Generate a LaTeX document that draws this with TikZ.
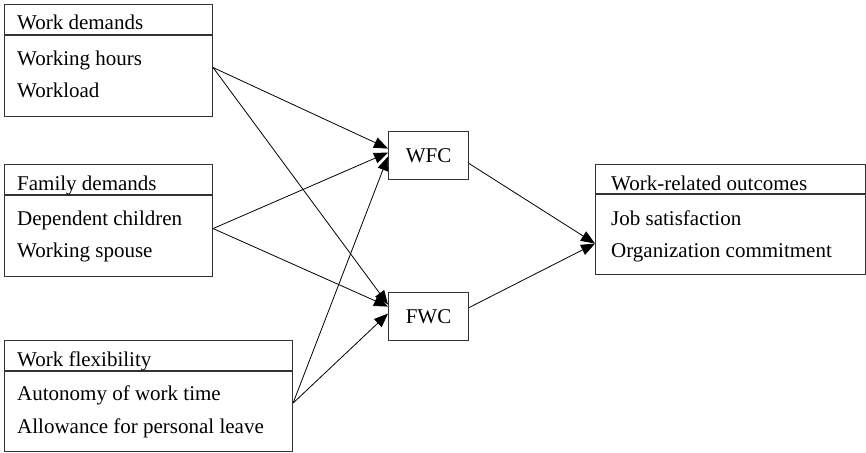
\documentclass[tikz,border=0pt]{standalone}
\usepackage{fontspec}
\setmainfont{Liberation Serif}
\usetikzlibrary{arrows.meta}
\begin{document}
\begin{tikzpicture}[x=1pt, y=-1pt, >={Triangle[length=14pt, width=11pt]},
		box/.style={draw=black!80, line width=1.1pt, anchor=north west, inner sep=0pt, font=\fontsize{21}{25}\selectfont},
		txt/.style={anchor=base west, inner sep=0pt, font=\fontsize{21}{25}\selectfont},
		link/.style={->, black, line width=0.8pt}]
			\useasboundingbox (0,0) rectangle (866,452);
			
			\node[box, minimum width=208pt, minimum height=112pt] (work) at (4,4) {};
			\draw [black!80, line width=1.1pt] ([yshift=-31pt]work.north west) -- ([yshift=-31pt]work.north east);
			\node[txt] (work title) at (17,30) {Work demands};
			\node[txt] (work hours) at (17,66) {Working hours};
			\node[txt] (work load) at (17,97) {Workload};
			
			\node[box, minimum width=208pt, minimum height=112pt] (family) at (4,164) {};
			\draw [black!80, line width=1.1pt] ([yshift=-31pt]family.north west) -- ([yshift=-31pt]family.north east);
			\node[txt] (family title) at (17,190) {Family demands};
			\node[txt] (family children) at (17,225) {Dependent children};
			\node[txt] (family spouse) at (17,257) {Working spouse};
			
			\node[box, minimum width=288pt, minimum height=111pt] (flex) at (4,340) {};
			\draw [black!80, line width=1.1pt] ([yshift=-31pt]flex.north west) -- ([yshift=-31pt]flex.north east);
			\node[txt] (flex title) at (17,366) {Work flexibility};
			\node[txt] (flex time) at (17,400) {Autonomy of work time};
			\node[txt] (flex leave) at (17,433) {Allowance for personal leave};
			
			\node[box, minimum width=80pt, minimum height=48pt] (wfc) at (388,131) {WFC};
			\node[box, minimum width=80pt, minimum height=48pt] (fwc) at (388,292) {FWC};
			
			\node[box, minimum width=270pt, minimum height=110pt] (outcome) at (595,164) {};
			\draw [black!80, line width=1.1pt] ([yshift=-30pt]outcome.north west) -- ([yshift=-30pt]outcome.north east);
			\node[txt] (outcome title) at (611,190) {Work-related outcomes};
			\node[txt] (outcome job) at (611,225) {Job satisfaction};
			\node[txt] (outcome org) at (611,257) {Organization commitment};
			
			\draw [link] ([yshift=-7pt]work.east) -- ([yshift=7pt]wfc.west);
			\draw [link] ([yshift=-7pt]work.east) -- ([yshift=12pt]fwc.west);
			\draw [link] ([yshift=-8pt]family.east) -- ([yshift=3pt]wfc.west);
			\draw [link] ([yshift=-8pt]family.east) -- ([yshift=10pt]fwc.west);
			\draw [link] ([yshift=-7pt]flex.east) -- ([yshift=-1pt]wfc.west);
			\draw [link] ([yshift=-7pt]flex.east) -- ([yshift=3pt]fwc.west);
			\draw [link] ([yshift=-8pt]wfc.east) -- ([yshift=-24pt]outcome.west);
			\draw [link] ([yshift=9pt]fwc.east) -- ([yshift=-24pt]outcome.west);
		
		\end{tikzpicture}
\end{document}
